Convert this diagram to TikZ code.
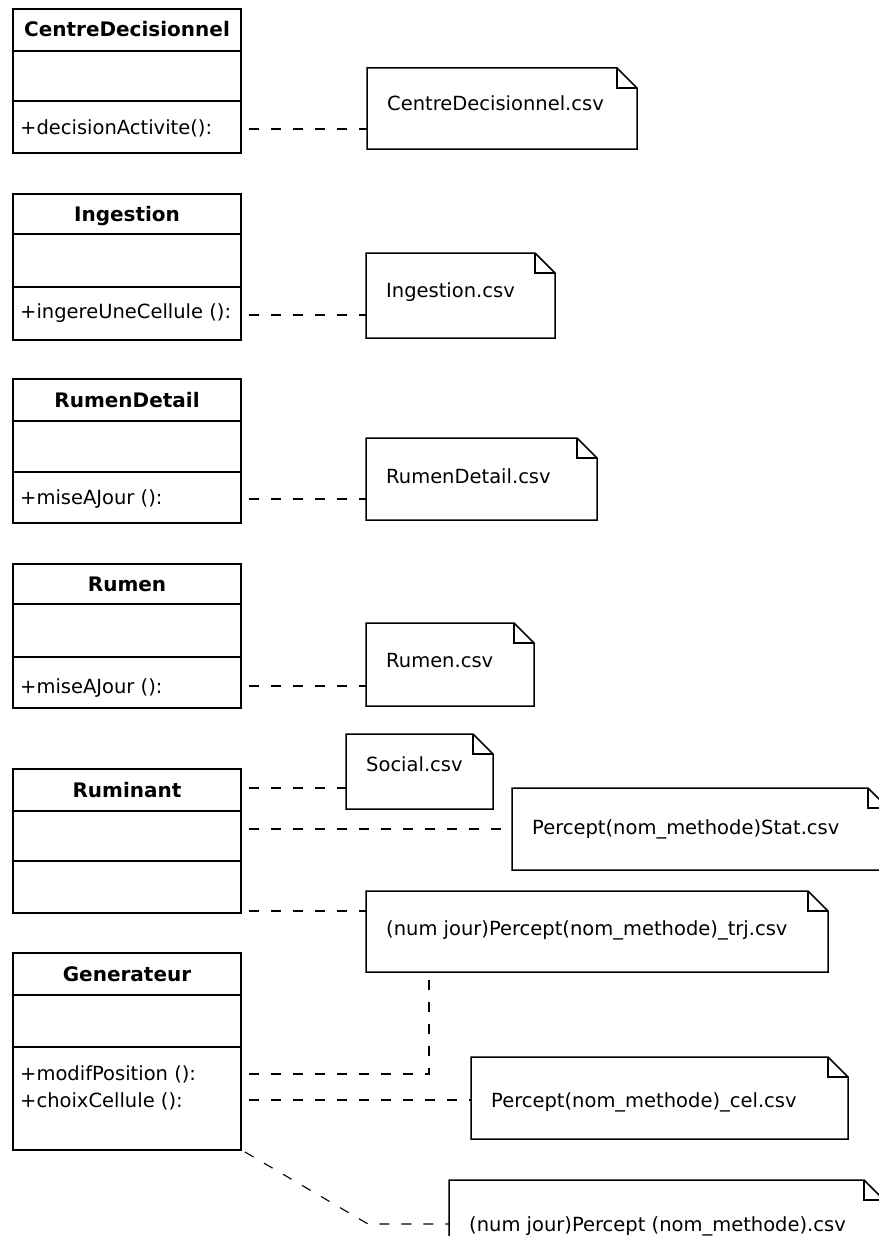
\documentclass[tikz,border=0pt]{standalone}
\usepackage{fontspec}
\setmainfont{DejaVu Sans}
\newcommand\membersize{\fontsize{19.5}{22}\selectfont}
\newcommand\titlesize{\fontsize{20}{23}\selectfont\bfseries}

\tikzset{
  outline/.style={draw=black, line width=1.5pt, line join=miter},
  shell/.style={rectangle, inner sep=0pt, outer sep=0pt},
  dep/.style={draw=black, line width=1.4pt, dash pattern=on 10pt off 12pt},
  ctitle/.style={anchor=base, inner sep=0pt, font=\titlesize},
  member/.style={anchor=base west, inner sep=0pt, font=\membersize},
  notetext/.style={anchor=base west, inner sep=0pt, font=\membersize},
}

% UML class: name, top, first separator, second separator, bottom, title
\newcommand\umlclass[6]{%
  \node[shell, draw=black, line width=1.5pt, minimum width=228pt,
        minimum height={(#5-#2)*1pt}, anchor=north west] (#1) at (13,#2) {};
  \draw[outline] (13,#3) -- (241,#3);
  \draw[outline] (13,#4) -- (241,#4);
  \node[ctitle] (#1-name) at (127,{(#2+#3)/2+7}) {#6};
}

% UML note with folded corner: name, x, top, width, height, text, baseline offset
\newcommand\umlnote[7]{%
  \node[shell, minimum width={#4*1pt}, minimum height={#5*1pt}, anchor=north west] (#1) at (#2,#3) {};
  \draw[outline] (#1.north west) -- ([xshift=-20pt]#1.north east) -- ([yshift=-20pt]#1.north east)
     -- (#1.south east) -- (#1.south west) -- cycle;
  \draw[outline] ([xshift=-20pt]#1.north east) |- ([yshift=-20pt]#1.north east);
  \node[notetext] (#1-text) at ([xshift=20pt,yshift=-#7pt]#1.north west) {#6};
}

\begin{document}
\begin{tikzpicture}[x=1pt,y=-1pt]
\fill[white] (0,0) rectangle (878,1236);
\useasboundingbox (0,0) rectangle (878,1236);

% classes
\umlclass{centre}{9}{51}{101}{153}{CentreDecisionnel}
\node[member] (centre-op) at (20,135) {+decisionActivite():};

\umlclass{ingestion}{194}{234}{287}{340}{Ingestion}
\node[member] (ingestion-op) at (20,318) {+ingereUneCellule ():};

\umlclass{rumendetail}{379}{421}{472}{523}{RumenDetail}
\node[member] (rumendetail-op) at (20,504) {+miseAJour ():};

\umlclass{rumen}{564}{604}{657}{708}{Rumen}
\node[member] (rumen-op) at (20,693) {+miseAJour ():};

\umlclass{ruminant}{769}{811}{861}{913}{Ruminant}

\umlclass{generateur}{953}{995}{1047}{1150}{Generateur}
\node[member] (generateur-op1) at (20,1080) {+modifPosition ():};
\node[member] (generateur-op2) at (20,1107) {+choixCellule ():};

% csv notes
\umlnote{centrecsv}{367}{68}{270}{81}{CentreDecisionnel.csv}{43}
\umlnote{ingestioncsv}{366}{253}{189}{85}{Ingestion.csv}{44}
\umlnote{rumendetailcsv}{366}{438}{231}{82}{RumenDetail.csv}{45}
\umlnote{rumencsv}{366}{623}{168}{83}{Rumen.csv}{44}
\umlnote{socialcsv}{346}{734}{147}{75}{Social.csv}{37}
\umlnote{statcsv}{512}{788}{376}{82}{Percept(nom\_methode)Stat.csv}{46}
\umlnote{trjcsv}{366}{891}{462}{81}{(num jour)Percept(nom\_methode)\_trj.csv}{44}
\umlnote{celcsv}{471}{1057}{377}{82}{Percept(nom\_methode)\_cel.csv}{50}
\umlnote{jourcsv}{449}{1180}{435}{90}{(num jour)Percept (nom\_methode).csv}{51}

% connector start points beside the classes
\coordinate (centre-out) at (249,129);
\coordinate (ingestion-out) at (249,315);
\coordinate (rumendetail-out) at (249,499);
\coordinate (rumen-out) at (249,686);
\coordinate (ruminant-out1) at (249,788);
\coordinate (ruminant-out2) at (249,829);
\coordinate (ruminant-out3) at (249,911);
\coordinate (generateur-out1) at (249,1074);
\coordinate (generateur-out2) at (249,1100);
\coordinate (generateur-out3) at (245,1152);
\coordinate (generateur-bend) at (368,1224);

% dependencies
\draw[dep] (centre-out) -- (centre-out -| centrecsv.west);
\draw[dep] (ingestion-out) -- (ingestion-out -| ingestioncsv.west);
\draw[dep] (rumendetail-out) -- (rumendetail-out -| rumendetailcsv.west);
\draw[dep] (rumen-out) -- (rumen-out -| rumencsv.west);
\draw[dep] (ruminant-out1) -- (ruminant-out1 -| socialcsv.west);
\draw[dep] (ruminant-out2) -- (ruminant-out2 -| statcsv.west);
\draw[dep] (ruminant-out3) -- (ruminant-out3 -| trjcsv.west);
\draw[dep] (generateur-out1) -| ([xshift=63pt]trjcsv.south west);
\draw[dep] (generateur-out2) -- (generateur-out2 -| celcsv.west);
\draw[dep, line width=1.1pt] (generateur-out3) -- (generateur-bend) -- (generateur-bend -| jourcsv.west);
\end{tikzpicture}
\end{document}
